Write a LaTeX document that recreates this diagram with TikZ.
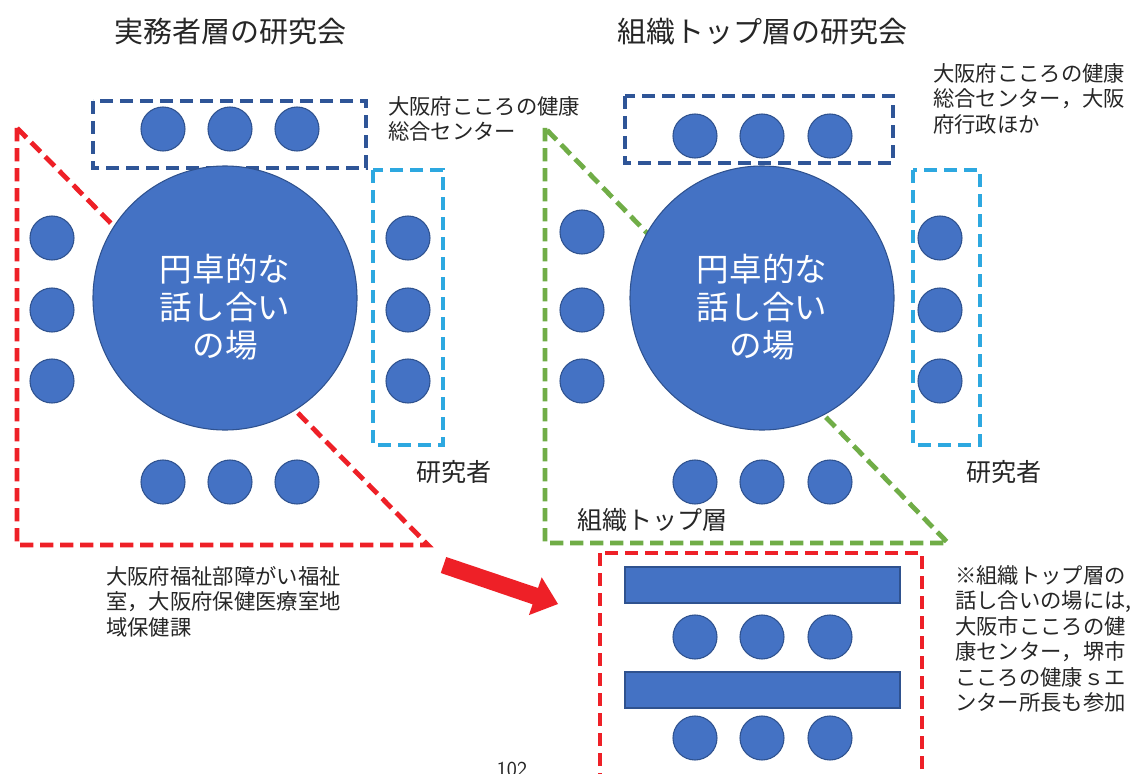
\documentclass[tikz,border=0pt]{standalone}
\usepackage{fontspec}
\newfontfamily\jp{Noto Sans CJK JP}
\usetikzlibrary{arrows.meta}
\definecolor{seatblue}{HTML}{4472C4}
\definecolor{seatedge}{HTML}{2F528F}
\definecolor{navy}{HTML}{2F5597}
\definecolor{skyblue}{HTML}{2DA8E0}
\definecolor{tred}{HTML}{EE2027}
\definecolor{tgreen}{HTML}{70AD47}
\definecolor{txt}{HTML}{262626}
\begin{document}
\begin{tikzpicture}[x=0.75pt,y=-0.75pt,
  seat/.style={circle, fill=seatblue, draw=seatedge, line width=0.8pt, minimum size=33pt, inner sep=0pt},
  table/.style={circle, fill=seatblue, draw=seatedge, line width=0.8pt, minimum size=198pt, inner sep=0pt,
    text=white, align=center, font=\jp\fontsize{24.4}{28.5}\selectfont},
  bar/.style={fill=seatblue, draw=seatedge, line width=0.8pt},
  dashbox/.style={line width=3.6pt, dash pattern=on 10pt off 5pt},
  title/.style={font=\jp\fontsize{21.75}{26}\selectfont, text=txt, inner sep=0pt},
  label/.style={font=\jp\fontsize{16}{19.1}\selectfont, text=txt, align=left, inner sep=0pt, anchor=north west},
  biglabel/.style={font=\jp\fontsize{18.8}{22}\selectfont, text=txt, inner sep=0pt, anchor=west}
]
\useasboundingbox (0,0) rectangle (1136,774);
\fill[white] (0,0) rectangle (1136,774);

% ---------- left panel ----------
\node[title] (t1) at (230,32) {実務者層の研究会};
\draw[dashbox, draw=tred] (17,128) -- (17,545) -- (428,545) -- cycle;
\draw[dashbox, draw=navy] (93,101) rectangle (366,168);
\draw[dashbox, draw=skyblue] (373,170) rectangle (443,445);
\node[table] (tabL) at (225,298) {};
\node[text=white, align=center, font=\jp\fontsize{24.4}{28.5}\selectfont, inner sep=0pt] (tabLtxt) at (225,307) {円卓的な\\話し合い\\の場};
\foreach \x/\n in {163/1,230/2,297/3} {
  \node[seat] (ltop\n) at (\x,129) {};
  \node[seat] (lbot\n) at (\x,482) {};
}
\foreach \y/\n in {238/1,310/2,381/3} {
  \node[seat] (lleft\n) at (52,\y) {};
  \node[seat] (lright\n) at (408,\y) {};
}
\node[label] (lc1) at (388,96) {大阪府こころの健康\\総合センター};
\node[biglabel] (lres) at (416,472) {研究者};
\node[label] (lfuk) at (106,566) {大阪府福祉部障がい福祉\\室，大阪府保健医療室地\\域保健課};

% ---------- right panel ----------
\node[title] (t2) at (762,32) {組織トップ層の研究会};
\draw[dashbox, draw=tgreen] (545,128) -- (545,543) -- (948,543) -- cycle;
\draw[dashbox, draw=navy] (625,96) rectangle (893,163);
\draw[dashbox, draw=skyblue] (913,170) rectangle (980,445);
\node[table] (tabR) at (762,298) {};
\node[text=white, align=center, font=\jp\fontsize{24.4}{28.5}\selectfont, inner sep=0pt] (tabRtxt) at (762,307) {円卓的な\\話し合い\\の場};
\foreach \x/\n in {695/1,762/2,830/3} {
  \node[seat] (rtop\n) at (\x,136) {};
  \node[seat] (rbot\n) at (\x,482) {};
}
\foreach \y/\n in {232/1,310/2,381/3} {
  \node[seat] (rleft\n) at (582,\y) {};
}
\foreach \y/\n in {238/1,310/2,381/3} {
  \node[seat] (rright\n) at (940,\y) {};
}
\node[label] (rc1) at (933,63) {大阪府こころの健康\\総合センター，大阪\\府行政ほか};
\node[biglabel] (rres) at (966,472) {研究者};
\node[biglabel] (rtop) at (577,520) {組織トップ層};

% ---------- lower right ----------
\draw[dashbox, draw=tred] (600,553) rectangle (922,800);
\draw[bar] (625,567) rectangle (900,603);
\draw[bar] (625,672) rectangle (900,708);
\foreach \x/\n in {695/1,762/2,830/3} {
  \node[seat] (ma\n) at (\x,637) {};
  \node[seat] (mb\n) at (\x,738) {};
}
\node[label] (note) at (955,565) {※組織トップ層の\\話し合いの場には,\\大阪市こころの健\\康センター，堺市\\こころの健康ｓエ\\ンター所長も参加};

% ---------- arrow ----------
\fill[tred] (440.8,573) -- (446.2,557) -- (538,588) -- (541.7,577.3) -- (558,604)
  -- (528.9,615.1) -- (532.6,604.3) -- cycle;

% page number
\node[font=\fontsize{16}{19}\selectfont\sffamily, text=txt, anchor=north, inner sep=0pt] (pg) at (512,762) {102};
\end{tikzpicture}
\end{document}
